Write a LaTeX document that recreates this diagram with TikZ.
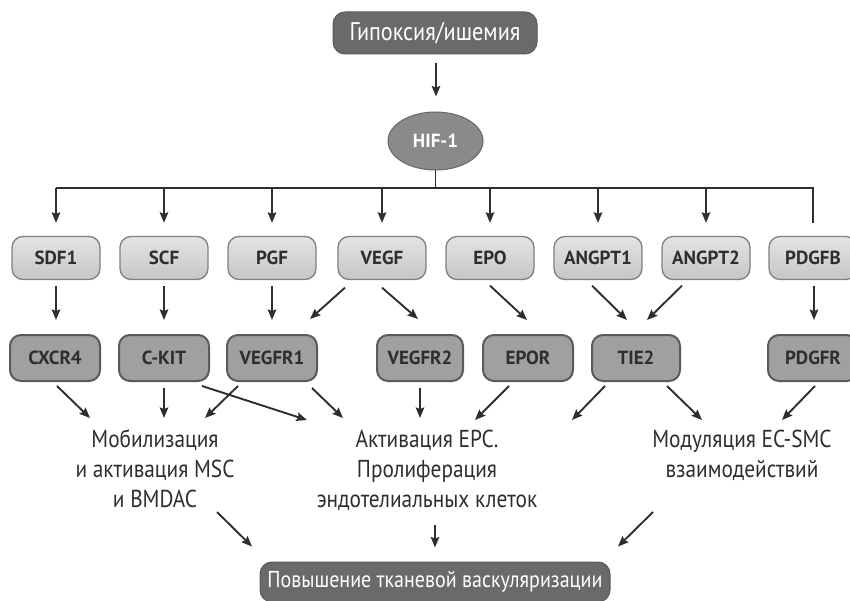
\documentclass[tikz,border=0pt]{standalone}
\usepackage{fontspec}
\setmainfont{PT Sans}
\newfontfamily\cond[FakeStretch=0.87]{PT Sans}
\usetikzlibrary{calc,arrows.meta,shapes.geometric}
\definecolor{darkbox}{HTML}{6A6A6A}
\definecolor{hifc}{HTML}{8A8A8A}
\definecolor{rowAtop}{HTML}{E4E4E4}
\definecolor{rowAbot}{HTML}{C6C6C6}
\definecolor{rowAedge}{HTML}{808080}
\definecolor{rowB}{HTML}{A0A0A0}
\definecolor{rowBedge}{HTML}{5A5A5A}
\definecolor{ink}{HTML}{2E2E2E}
\begin{document}
\begin{tikzpicture}[x=1pt,y=-1pt,
  arr/.style={-{Stealth[length=10.5pt,width=8.5pt,inset=1.5pt]}, line width=1.9pt, draw=ink},
  ln/.style={line width=1.9pt, draw=ink},
  darkbox/.style={rectangle, rounded corners=12pt, fill=darkbox, draw=darkbox!85!black, line width=1pt,
    text=white, font=\cond\fontsize{25.5}{25.5}\selectfont, inner sep=0pt},
  rowa/.style={rectangle, rounded corners=11pt, top color=rowAtop, bottom color=rowAbot, draw=rowAedge,
    line width=1.3pt, minimum width=88pt, minimum height=43pt, inner sep=0pt,
    text=ink, font=\bfseries\fontsize{19}{19}\selectfont},
  rowb/.style={rectangle, rounded corners=11pt, fill=rowB, draw=rowBedge,
    line width=2pt, minimum width=90pt, minimum height=46pt, inner sep=0pt,
    text=ink, font=\bfseries\fontsize{19}{19}\selectfont},
  txt/.style={anchor=base, inner sep=0pt, text=ink, font=\cond\fontsize{24.5}{24.5}\selectfont}]
\useasboundingbox (0,0) rectangle (850,601);

% top
\node[darkbox, minimum width=204pt, minimum height=42pt] (hyp) at (435,33) {Гипоксия/ишемия};
\node[ellipse, fill=hifc, draw=hifc!75!black, line width=1pt, minimum width=95pt, minimum height=58pt,
  inner sep=0pt, text=white, font=\bfseries\fontsize{19}{19}\selectfont] (hif) at (435.5,141) {HIF-1};

% row 1
\node[rowa] (sdf1) at (56,258) {SDF1};
\node[rowa] (scf) at (164,258) {SCF};
\node[rowa] (pgf) at (272,258) {PGF};
\node[rowa] (vegf) at (382,258) {VEGF};
\node[rowa] (epo) at (490,258) {EPO};
\node[rowa] (angptA) at (598,258) {ANGPT1};
\node[rowa] (angptB) at (706,258) {ANGPT2};
\node[rowa] (pdgfb) at (813,258) {PDGFB};

% row 2
\node[rowb] (cxcr4) at (55,358) {CXCR4};
\node[rowb] (ckit) at (164,358) {C-KIT};
\node[rowb] (vegfrA) at (272,358) {VEGFR1};
\node[rowb, minimum width=86pt] (vegfrB) at (420,358) {VEGFR2};
\node[rowb] (epor) at (528,358) {EPOR};
\node[rowb, minimum width=88pt] (tie) at (636,358) {TIE2};
\node[rowb] (pdgfr) at (813,358) {PDGFR};

% texts
\node[txt] (mob1) at (155,447) {Мобилизация};
\node[txt] (mob2) at (155,477) {и активация MSC};
\node[txt] (mob3) at (155,507) {и BMDAC};
\node[txt] (act1) at (427,447) {Активация EPC.};
\node[txt] (act2) at (427,477) {Пролиферация};
\node[txt] (act3) at (427,507) {эндотелиальных клеток};
\node[txt] (mod1) at (742,447) {Модуляция EC-SMC};
\node[txt] (mod2) at (742,477) {взаимодействий};

% bottom
\node[darkbox, minimum width=350pt, minimum height=40pt, font=\cond\fontsize{23}{23}\selectfont] (res) at (435,582) {Повышение тканевой васкуляризации};

% top connectors
\draw[arr] ($(hyp.south)+(1,9)$) -- ($(hif.north)+(0.5,-15)$);
\coordinate (bar) at (435.5,188);
\draw[ln] (hif.south) -- (bar);
\draw[ln] (sdf1.north |- bar) -- (pdgfb.north |- bar) -- ($(pdgfb.north)+(0,-13)$);
\foreach \n in {sdf1,scf,pgf,vegf,epo,angptA,angptB}
  \draw[arr] (\n.north |- bar) -- ($(\n.north)+(0,-13)$);

% row1 -> row2
\draw[arr] ($(sdf1.south)+(0,5.5)$) -- ($(cxcr4.north)+(1,-14)$);
\draw[arr] ($(scf.south)+(0,5.5)$) -- ($(ckit.north)+(0,-14)$);
\draw[arr] ($(pgf.south)+(0,5.5)$) -- ($(vegfrA.north)+(0,-14)$);
\draw[arr] ($(vegf.south)+(-37,7.5)$) -- ($(vegfrA.north)+(38,-15)$);
\draw[arr] ($(vegf.south)+(0,7.5)$) -- ($(vegfrB.north)+(-2,-15)$);
\draw[arr] ($(epo.south)+(0,5.5)$) -- ($(epor.north)+(-1,-14)$);
\draw[arr] ($(angptA.south)+(-6,5.5)$) -- ($(tie.north)+(-9,-14)$);
\draw[arr] ($(angptB.south)+(-24,5.5)$) -- ($(tie.north)+(11,-14)$);
\draw[arr] ($(pdgfb.south)+(1,5.5)$) -- ($(pdgfr.north)+(1,-14)$);

% row2 -> texts
\draw[arr] ($(cxcr4.south)+(2,4)$) -- ($(mob1.base)+(-65,-29)$);
\draw[arr] ($(ckit.south)+(0,6)$) -- ($(mob1.base)+(9,-29)$);
\draw[arr] ($(ckit.south)+(38,4)$) -- ($(act1.base)+(-120,-27)$);
\draw[arr] ($(vegfrA.south)+(-34,4)$) -- ($(mob1.base)+(50,-29)$);
\draw[arr] ($(vegfrA.south)+(40,6)$) -- ($(act1.base)+(-84,-29)$);
\draw[arr] ($(vegfrB.south)+(0,6)$) -- ($(act1.base)+(-7,-29)$);
\draw[arr] ($(epor.south)+(-19,4)$) -- ($(act1.base)+(48,-27)$);
\draw[arr] ($(tie.south)+(-31,4)$) -- ($(act1.base)+(145,-27)$);
\draw[arr] ($(tie.south)+(31,4)$) -- ($(mod1.base)+(-40,-27)$);
\draw[arr] ($(pdgfr.south)+(2,4)$) -- ($(mod1.base)+(40,-27)$);

% texts -> bottom
\draw[arr] ($(mob3.base)+(62,5)$) -- ($(res.north)+(-183,-15)$);
\draw[arr] ($(act3.base)+(8,18)$) -- ($(res.north)+(0,-14)$);
\draw[arr] ($(mod2.base)+(-89,35)$) -- ($(res.north)+(183,-15)$);
\end{tikzpicture}
\end{document}
